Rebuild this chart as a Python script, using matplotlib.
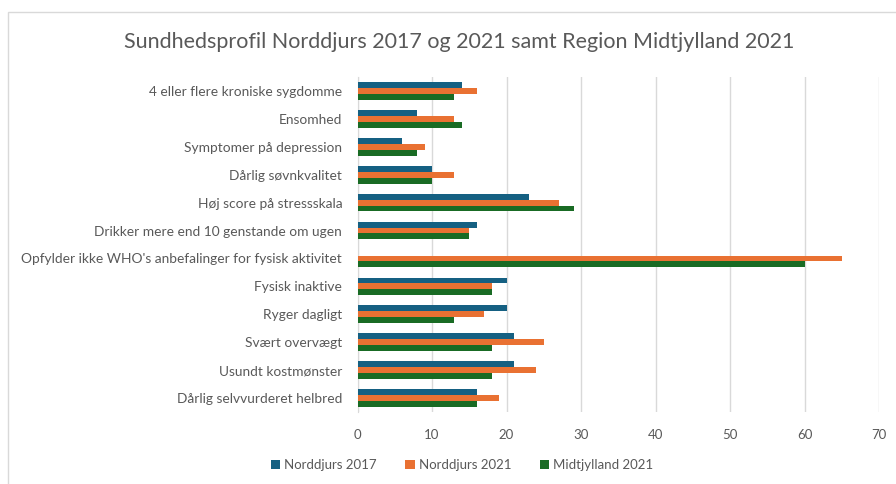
import numpy as np
import matplotlib.pyplot as plt
from matplotlib.patches import Rectangle

categories = [
    "4 eller flere kroniske sygdomme",
    "Ensomhed",
    "Symptomer på depression",
    "Dårlig søvnkvalitet",
    "Høj score på stressskala",
    "Drikker mere end 10 genstande om ugen",
    "Opfylder ikke WHO's anbefalinger for fysisk aktivitet",
    "Fysisk inaktive",
    "Ryger dagligt",
    "Svært overvægt",
    "Usundt kostmønster",
    "Dårlig selvvurderet helbred",
]
norddjurs_2017 = [14, 8, 6, 10, 23, 16, 0, 20, 20, 21, 21, 16]
norddjurs_2021 = [16, 13, 9, 13, 27, 15, 65, 18, 17, 25, 24, 19]
midtjylland_2021 = [13, 14, 8, 10, 29, 15, 60, 18, 13, 18, 18, 16]
series_names = ["Norddjurs 2017", "Norddjurs 2021", "Midtjylland 2021"]
colors = ["#156082", "#E97132", "#196B24"]

plt.rcParams['font.family'] = ['Lato', 'DejaVu Sans']
txt = "#595959"

fig = plt.figure(figsize=(8.96, 4.84), dpi=100)
fig.patches.append(Rectangle((8 / 896, -0.1), 1.1, 1 - 12 / 484 + 0.1,
                             transform=fig.transFigure, fill=False,
                             edgecolor="#D9D9D9", linewidth=1))

ax = fig.add_axes([357.5 / 896, 1 - 412 / 484, (879 - 357.5) / 896, (412 - 77) / 484])

y = np.arange(len(categories))
h = 0.21
for i, (vals, name, c) in enumerate(zip([norddjurs_2017, norddjurs_2021, midtjylland_2021], series_names, colors)):
    ax.barh(y + (i - 1) * h, vals, height=h, color=c, label=name, zorder=3)

ax.set_xlim(0, 70)
ax.set_xticks(range(0, 71, 10))
ax.set_ylim(len(categories) - 0.5, -0.5)
ax.set_yticks(y)
ax.set_yticklabels(categories)
ax.tick_params(axis='both', length=0, colors=txt, labelsize=9.5)
ax.tick_params(axis='y', pad=11, labelsize=9.9)
ax.tick_params(axis='x', pad=12)
ax.grid(axis='x', color="#D9D9D9", linewidth=1, zorder=0)
for s in ['top', 'right', 'bottom']:
    ax.spines[s].set_visible(False)
ax.spines['left'].set_color("#D9D9D9")

fig.text(459 / 896, 1 - 42 / 484, "Sundhedsprofil Norddjurs 2017 og 2021 samt Region Midtjylland 2021",
         ha='center', va='center', fontsize=15.5, color=txt)

fig.legend(loc='center', bbox_to_anchor=(462 / 896, 1 - 465 / 484), ncol=3, frameon=False,
           fontsize=9.5, labelcolor=txt, handlelength=0.7, handleheight=0.7,
           handletextpad=0.3, columnspacing=2.2)

fig.savefig("out.png", dpi=100)
